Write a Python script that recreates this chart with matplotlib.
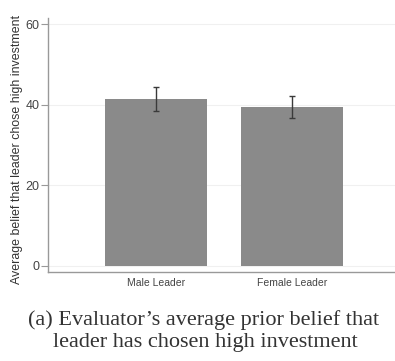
import matplotlib
matplotlib.use("Agg")
import matplotlib.pyplot as plt

categories = ["Male Leader", "Female Leader"]
values = [41.3, 39.4]
err_low = [38.4, 36.8]
err_high = [44.3, 42.1]
yticks = [0, 20, 40, 60]

W, H = 395, 361
fig = plt.figure(figsize=(W / 100, H / 100), dpi=100)
ax_w = 400 - 48
ax = fig.add_axes([48 / W, 1 - 272 / H, ax_w / W, (272 - 18) / H])

x = list(range(len(categories)))
yerr = [[v - l for v, l in zip(values, err_low)], [h - v for v, h in zip(values, err_high)]]
ax.bar(x, values, width=0.75, color="#8a8a8a", zorder=2)
ax.errorbar(x, values, yerr=yerr, fmt="none", ecolor="#3a3a3a", elinewidth=1.0,
            capsize=2.5, capthick=1.0, zorder=3)

ax.set_xlim(-0.794, 1.794)
ax.set_ylim(-1.5, 61.5)
ax.set_yticks(yticks)
ax.set_yticklabels([str(t) for t in yticks], fontsize=9, color="#444444",
                   family="Liberation Sans")
ax.set_xticks(x)
ax.set_xticklabels(categories, fontsize=7.5, color="#444444", family="Liberation Sans")
ax.tick_params(axis="x", length=0, pad=4)
ax.tick_params(axis="y", length=5, color="#999999", width=0.8, pad=1)
for t in yticks:
    ax.axhline(t, color="#f0f0f0", lw=0.8, zorder=0)
for s in ["top", "right"]:
    ax.spines[s].set_visible(False)
for s in ["left", "bottom"]:
    ax.spines[s].set_color("#999999")
    ax.spines[s].set_linewidth(1.0)
ax.set_ylabel("Average belief that leader chose high investment", fontsize=8.9,
              color="#333333", family="Liberation Sans", va="center")
ax.yaxis.set_label_coords((17 - 48) / ax_w, (272 - 150) / (272 - 18))

fig.text(204 / W, 1 - 320 / H, "(a) Evaluator\u2019s average prior belief that",
         ha="center", va="center", fontsize=16, family="Liberation Serif", color="#333333")
fig.text(205 / W, 1 - 343 / H, "leader has chosen high investment",
         ha="center", va="center", fontsize=16, family="Liberation Serif", color="#333333")

fig.savefig("out.png", dpi=100)
